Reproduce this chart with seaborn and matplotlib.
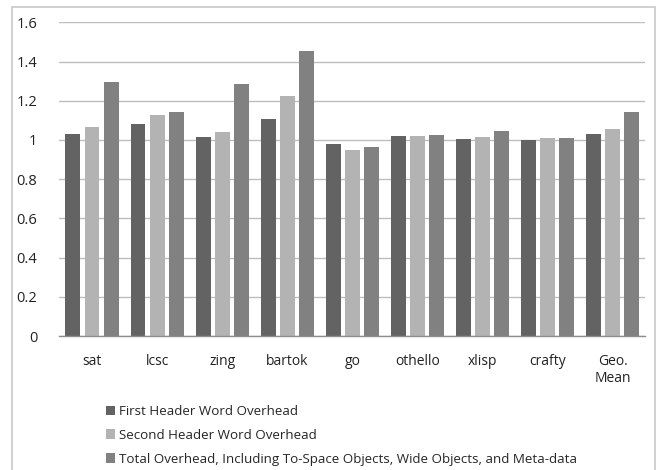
import matplotlib
matplotlib.use("Agg")
import matplotlib.pyplot as plt
from matplotlib.patches import Rectangle, Patch
import seaborn as sns
import pandas as pd

benchmarks = ["sat", "lcsc", "zing", "bartok", "go", "othello", "xlisp", "crafty", "Geo.\nMean"]
series_names = [
    "First Header Word Overhead",
    "Second Header Word Overhead",
    "Total Overhead, Including To-Space Objects, Wide Objects, and Meta-data",
]
first_header = [1.029, 1.083, 1.013, 1.107, 0.979, 1.020, 1.006, 1.001, 1.030]
second_header = [1.064, 1.125, 1.039, 1.224, 0.950, 1.022, 1.013, 1.008, 1.054]
total_overhead = [1.294, 1.144, 1.287, 1.453, 0.965, 1.024, 1.047, 1.010, 1.141]
y_ticks = [0, 0.2, 0.4, 0.6, 0.8, 1, 1.2, 1.4, 1.6]
y_tick_labels = ["0", "0.2", "0.4", "0.6", "0.8", "1", "1.2", "1.4", "1.6"]
colors = ["#636363", "#b3b3b3", "#818181"]

rows = []
for name, vals in zip(series_names, [first_header, second_header, total_overhead]):
    for b, v in zip(benchmarks, vals):
        rows.append({"benchmark": b, "series": name, "value": v})
df = pd.DataFrame(rows)

sns.set_theme(style="white")
plt.rcParams["font.family"] = ["Open Sans", "DejaVu Sans"]

fig = plt.figure(figsize=(6.61, 4.70), dpi=100)
ax = fig.add_axes([0.09, 0.285, 0.886, 0.6675])

sns.barplot(data=df, x="benchmark", y="value", hue="series", order=benchmarks,
            hue_order=series_names, palette=colors, width=0.88, gap=0.22,
            saturation=1, ax=ax, legend=False, edgecolor="none")

ax.set_ylim(0, 1.6)
ax.set_xlim(-0.5, len(benchmarks) - 0.5)
ax.set_yticks(y_ticks)
ax.set_yticklabels(y_tick_labels, fontsize=10.5, color="#222222")
ax.tick_params(axis="x", labelsize=10, colors="#222222", pad=13, length=0)
ax.tick_params(axis="y", length=0, pad=16)
ax.set_xlabel("")
ax.set_ylabel("")
ax.yaxis.grid(True, color="#bdbdbd", linewidth=1)
ax.set_axisbelow(True)
for s in ["left", "right", "top"]:
    ax.spines[s].set_visible(False)
ax.spines["bottom"].set_color("#8c8c8c")
ax.spines["bottom"].set_linewidth(1)

handles = [Patch(facecolor=c, edgecolor="none") for c in colors]
fig.legend(handles, series_names, loc="upper left", bbox_to_anchor=(0.152, 0.150),
           frameon=False, fontsize=9.6, handlelength=0.7, handleheight=0.7,
           handletextpad=0.3, labelspacing=0.82, borderaxespad=0)

fig.patches.append(Rectangle((12 / 661, -0.05), (655 - 12) / 661, 1.05 - 7 / 470,
                             transform=fig.transFigure, fill=False,
                             edgecolor="#c8c8c8", linewidth=1.2))

fig.savefig("out.png", dpi=100, facecolor="white")
